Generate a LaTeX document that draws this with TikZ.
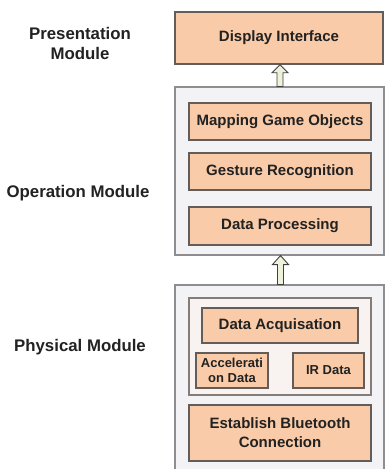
\documentclass[tikz,border=0pt]{standalone}
\usepackage{fontspec}
\setmainfont{Liberation Sans}
\usetikzlibrary{calc}
\definecolor{peach}{HTML}{F9CBA8}
\definecolor{peachline}{HTML}{645C58}
\definecolor{modfill}{HTML}{F3F3F5}
\definecolor{modline}{HTML}{8E8E92}
\definecolor{groupfill}{HTML}{F8F3F0}
\definecolor{arrowfill}{HTML}{EEF2DA}
\definecolor{inktext}{HTML}{222222}
\tikzset{
  unitbox/.style={draw=peachline, fill=peach, line width=1.4pt, rectangle,
    align=center, inner sep=0pt, text=inktext,
    font=\bfseries\fontsize{15}{19}\selectfont},
  modbox/.style={draw=modline, fill=modfill, line width=1.1pt, rectangle, inner sep=0pt},
  groupbox/.style={draw=peachline!80, fill=groupfill, line width=1.1pt, rectangle, inner sep=0pt},
  smallunit/.style={unitbox, font=\bfseries\fontsize{13}{15.5}\selectfont},
  modlabel/.style={align=center, text=inktext, inner sep=0pt,
    font=\bfseries\fontsize{16.8}{20}\selectfont},
  hollowarrow/.style={draw=black!75, fill=arrowfill, line width=0.9pt, line join=miter},
}
\begin{document}
\begin{tikzpicture}[x=1pt, y=-1pt]
  \useasboundingbox (0,0) rectangle (385,469);
  \fill[white] (0,0) rectangle (385,469);

  % module names on the left
  \node[modlabel] (lpres) at (80,43) {Presentation\\Module};
  \node[modlabel] (lop) at (78,193) {Operation Module};
  \node[modlabel] (lphy) at (80,347) {Physical Module};

  % presentation module
  \node[unitbox, minimum width=208pt, minimum height=52pt] (disp) at (279,38) {Display Interface};

  % operation module
  \node[modbox, minimum width=209pt, minimum height=168pt] (op) at (279.5,171) {};
  \node[unitbox, minimum width=182pt, minimum height=37pt] (map) at (280,121.5) {Mapping Game Objects};
  \node[unitbox, minimum width=182pt, minimum height=37pt] (gest) at (280,171.5) {Gesture Recognition};
  \node[unitbox, minimum width=182pt, minimum height=38pt] (proc) at (280,226) {Data Processing};

  % physical module
  \node[modbox, minimum width=209pt, minimum height=195pt] (phy) at (279.5,382.5) {};
  \node[groupbox, minimum width=182pt, minimum height=97pt] (grp) at (280,346.5) {};
  \node[unitbox, minimum width=156pt, minimum height=35pt] (acq) at (280,325.5) {Data Acquisation};
  \node[smallunit, minimum width=72pt, minimum height=35pt] (acc) at (232,370.5) {Accelerati\\on Data};
  \node[smallunit, minimum width=71pt, minimum height=35pt] (ir) at (328.5,370.5) {IR Data};
  \node[unitbox, minimum width=182pt, minimum height=56pt] (bt) at (280,433) {Establish Bluetooth\\Connection};

  % hollow block arrows between the modules
  \coordinate (t1) at ([xshift=1pt]disp.south);
  \draw[hollowarrow] (t1) -- ++(8,8) -- ++(-5,0) -- ($(t1|-op.north)+(3,0)$)
    -- ++(-6,0) -- ($(t1)+(-3,8)$) -- ++(-5,0) -- cycle;
  \coordinate (t2) at ([xshift=1pt]op.south);
  \draw[hollowarrow] (t2) -- ++(8,9) -- ++(-5,0) -- ($(t2|-phy.north)+(3,0)$)
    -- ++(-6,0) -- ($(t2)+(-3,9)$) -- ++(-5,0) -- cycle;
\end{tikzpicture}
\end{document}
